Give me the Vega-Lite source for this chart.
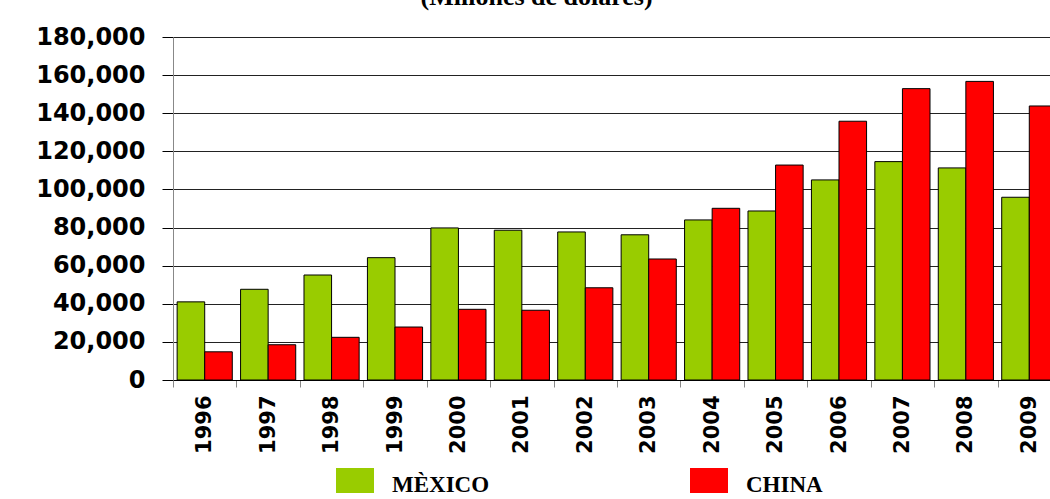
{
  "$schema": "https://vega.github.io/schema/vega-lite/v6.json",
  "usermeta": {"embedOptions": {"actions": false}},
  "autosize": {"type": "none"},
  "padding": {"left": 173, "top": 37, "right": -11, "bottom": 119},
  "width": 888,
  "height": 343,
  "background": "white",
  "title": {
    "text": "(Millones de dólares)",
    "font": "Liberation Serif",
    "fontSize": 26,
    "fontWeight": "bold",
    "color": "black",
    "anchor": "middle",
    "frame": "bounds",
    "baseline": "alphabetic",
    "offset": 12,
    "dx": -12,
    "dy": 18
  },
  "data": {
    "values": [
      {"year": "1996", "country": "MÈXICO", "value": 41000},
      {"year": "1996", "country": "CHINA", "value": 14800},
      {"year": "1997", "country": "MÈXICO", "value": 47600},
      {"year": "1997", "country": "CHINA", "value": 18500},
      {"year": "1998", "country": "MÈXICO", "value": 55100},
      {"year": "1998", "country": "CHINA", "value": 22400},
      {"year": "1999", "country": "MÈXICO", "value": 64200},
      {"year": "1999", "country": "CHINA", "value": 27800},
      {"year": "2000", "country": "MÈXICO", "value": 79800},
      {"year": "2000", "country": "CHINA", "value": 37100},
      {"year": "2001", "country": "MÈXICO", "value": 78600},
      {"year": "2001", "country": "CHINA", "value": 36600},
      {"year": "2002", "country": "MÈXICO", "value": 77700},
      {"year": "2002", "country": "CHINA", "value": 48400},
      {"year": "2003", "country": "MÈXICO", "value": 76200},
      {"year": "2003", "country": "CHINA", "value": 63500},
      {"year": "2004", "country": "MÈXICO", "value": 84000},
      {"year": "2004", "country": "CHINA", "value": 90100},
      {"year": "2005", "country": "MÈXICO", "value": 88700},
      {"year": "2005", "country": "CHINA", "value": 112800},
      {"year": "2006", "country": "MÈXICO", "value": 105000},
      {"year": "2006", "country": "CHINA", "value": 135800},
      {"year": "2007", "country": "MÈXICO", "value": 114600},
      {"year": "2007", "country": "CHINA", "value": 152900},
      {"year": "2008", "country": "MÈXICO", "value": 111300},
      {"year": "2008", "country": "CHINA", "value": 156700},
      {"year": "2009", "country": "MÈXICO", "value": 95900},
      {"year": "2009", "country": "CHINA", "value": 143800}
    ]
  },
  "mark": {"type": "bar", "stroke": "black", "strokeWidth": 1},
  "encoding": {
    "x": {
      "field": "year",
      "type": "nominal",
      "scale": {"paddingInner": 0, "paddingOuter": 0},
      "axis": {
        "title": null,
        "labelAngle": -90,
        "labelAlign": "right",
        "labelBaseline": "middle",
        "labelFont": "DejaVu Sans",
        "labelFontWeight": "bold",
        "labelFontSize": 21,
        "labelColor": "black",
        "labelPadding": 8,
        "tickBand": "extent",
        "tickSize": 7,
        "tickColor": "#888888",
        "domainColor": "black",
        "domainWidth": 1
      }
    },
    "xOffset": {
      "field": "country",
      "sort": ["MÈXICO", "CHINA"],
      "scale": {"paddingInner": 0, "paddingOuter": 0.15}
    },
    "y": {
      "field": "value",
      "type": "quantitative",
      "scale": {"domain": [0, 180000], "nice": false},
      "axis": {
        "title": null,
        "values": [0, 20000, 40000, 60000, 80000, 100000, 120000, 140000, 160000, 180000],
        "format": ",d",
        "labelFont": "DejaVu Sans",
        "labelFontWeight": "bold",
        "labelFontSize": 24,
        "labelColor": "black",
        "labelPadding": 17,
        "tickSize": 11,
        "tickColor": "black",
        "domainColor": "#888888",
        "grid": true,
        "gridColor": "#222222",
        "gridWidth": 1
      }
    },
    "color": {
      "field": "country",
      "type": "nominal",
      "sort": ["MÈXICO", "CHINA"],
      "scale": {"domain": ["MÈXICO", "CHINA"], "range": ["#99CC00", "#FF0000"]},
      "legend": {
        "title": null,
        "orient": "none",
        "legendX": 163,
        "legendY": 429,
        "direction": "horizontal",
        "padding": 0,
        "columnPadding": 200,
        "symbolType": "M-1,-0.895H1V0.421H-1Z",
        "symbolSize": 1444,
        "symbolStrokeWidth": 0,
        "symbolOpacity": 1,
        "labelFont": "Liberation Serif",
        "labelFontWeight": "bold",
        "labelFontSize": 23,
        "labelBaseline": "middle",
        "labelColor": "black",
        "labelOffset": 18,
        "labelLimit": 300
      }
    }
  },
  "config": {
    "view": {"stroke": null},
    "axis": {"gridOpacity": 1}
  }
}
